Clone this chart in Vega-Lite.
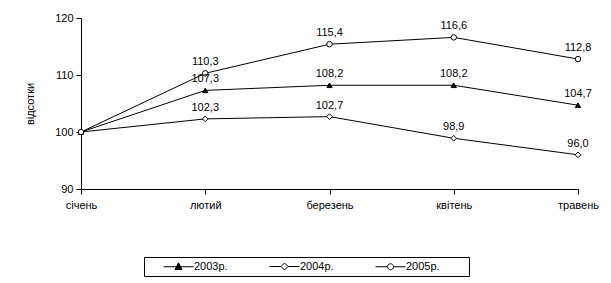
{
  "$schema": "https://vega.github.io/schema/vega-lite/v6.json",
  "width": 497,
  "height": 171,
  "autosize": {"type": "none"},
  "padding": {"left": 81, "top": 18, "right": 33, "bottom": 94},
  "background": "white",
  "data": {
    "values": [
      {"month": "січень", "series": "2003р.", "value": 100},
      {"month": "лютий", "series": "2003р.", "value": 107.3},
      {"month": "березень", "series": "2003р.", "value": 108.2},
      {"month": "квітень", "series": "2003р.", "value": 108.2},
      {"month": "травень", "series": "2003р.", "value": 104.7},
      {"month": "січень", "series": "2004р.", "value": 100},
      {"month": "лютий", "series": "2004р.", "value": 102.3},
      {"month": "березень", "series": "2004р.", "value": 102.7},
      {"month": "квітень", "series": "2004р.", "value": 98.9},
      {"month": "травень", "series": "2004р.", "value": 96.0},
      {"month": "січень", "series": "2005р.", "value": 100},
      {"month": "лютий", "series": "2005р.", "value": 110.3},
      {"month": "березень", "series": "2005р.", "value": 115.4},
      {"month": "квітень", "series": "2005р.", "value": 116.6},
      {"month": "травень", "series": "2005р.", "value": 112.8}
    ]
  },
  "encoding": {
    "x": {
      "field": "month", "type": "nominal",
      "sort": ["січень", "лютий", "березень", "квітень", "травень"],
      "scale": {"type": "point", "padding": 0},
      "axis": {"title": null, "labelAngle": 0, "labelPadding": 5}
    },
    "y": {
      "field": "value", "type": "quantitative",
      "scale": {"domain": [90, 120], "nice": false, "zero": false},
      "axis": {"title": "відсотки", "values": [90, 100, 110, 120], "titlePadding": 19, "labelPadding": 3}
    }
  },
  "layer": [
    {
      "mark": {"type": "line", "strokeWidth": 1},
      "encoding": {
        "color": {
          "field": "series", "type": "nominal",
          "scale": {"domain": ["2003р.", "2004р.", "2005р."], "range": ["black", "black", "black"]},
          "legend": {
            "title": "\u00a0",
            "titleOrient": "right",
            "titlePadding": 25,
            "titleFontSize": 11,
            "titleColor": "white",
            "orient": "none",
            "legendX": 63,
            "legendY": 239,
            "direction": "horizontal",
            "strokeColor": "black",
            "fillColor": "white",
            "padding": 4,
            "symbolOffset": 25,
            "symbolSize": 100,
            "labelOffset": 10,
            "columnPadding": 26,
            "labelFontSize": 11,
            "labelFont": "Liberation Sans",
            "labelColor": "black",
            "encode": {
              "symbols": {
                "update": {
                  "shape": {"signal": "datum.value == '2003р.' ? 'M-3,0H3M0,-0.8L0.7,0.55L-0.7,0.55Z' : datum.value == '2004р.' ? 'M-3,0H-0.7M0.7,0H3M0,-0.7L0.7,0L0,0.7L-0.7,0Z' : 'M-3,0H-0.6M0.6,0H3M0.6,0A0.6,0.6 0 1,1 -0.6,0A0.6,0.6 0 1,1 0.6,0Z'"},
                  "fill": {"signal": "datum.value == '2003р.' ? 'black' : 'white'"},
                  "stroke": {"value": "black"},
                  "strokeWidth": {"value": 1},
                  "opacity": {"value": 1}
                }
              }
            }
          }
        }
      }
    },
    {
      "transform": [{"filter": "datum.series == '2003р.'"}],
      "mark": {"type": "point", "shape": "triangle-up", "filled": true, "fill": "black", "stroke": "black", "strokeWidth": 1, "size": 28, "opacity": 1}
    },
    {
      "transform": [{"filter": "datum.series == '2004р.'"}],
      "mark": {"type": "point", "shape": "diamond", "fill": "white", "stroke": "black", "strokeWidth": 1, "size": 32, "opacity": 1}
    },
    {
      "transform": [{"filter": "datum.series == '2005р.'"}],
      "mark": {"type": "point", "shape": "circle", "fill": "white", "stroke": "black", "strokeWidth": 1, "size": 30, "opacity": 1}
    },
    {
      "transform": [{"filter": "datum.month != 'січень'"}],
      "mark": {"type": "text", "baseline": "bottom", "dy": -6, "fontSize": 11, "font": "Liberation Sans", "color": "black"},
      "encoding": {
        "text": {"field": "value", "type": "quantitative", "format": ".1f"}
      }
    }
  ],
  "config": {
    "locale": {"number": {"decimal": ",", "thousands": " ", "grouping": [3], "currency": ["", ""]}},
    "view": {"stroke": null},
    "font": "Liberation Sans",
    "axis": {
      "grid": false,
      "domainColor": "black",
      "tickColor": "black",
      "tickSize": 5,
      "labelColor": "black",
      "labelFontSize": 11,
      "labelFont": "Liberation Sans",
      "titleFont": "Liberation Sans",
      "titleFontSize": 11,
      "titleFontWeight": "normal",
      "titleColor": "black"
    }
  }
}
